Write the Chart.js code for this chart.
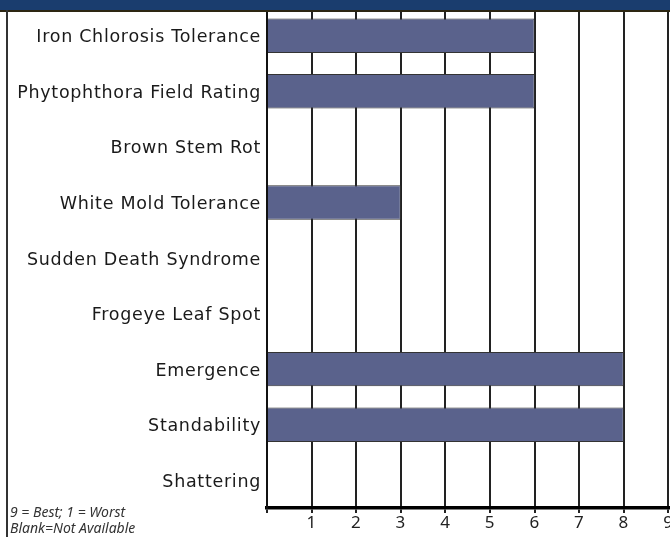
<!DOCTYPE html>
<html>
<head>
<meta charset="utf-8">
<script src="https://cdn.jsdelivr.net/npm/chart.js@4.4.1/dist/chart.umd.min.js"></script>
<style>
  html, body { margin: 0; padding: 0; background: #fff; }
  #wrap { position: relative; width: 670px; height: 537px; overflow: hidden; }
  #chart { position: absolute; left: 0; top: 0; }
  #head { position: absolute; left: 0; top: 0; width: 670px; height: 10px; background: #1a3d6e;
          border-bottom: 2px solid #2d2612; z-index: 2; }
  #frame { position: absolute; left: 6px; top: 10px; width: 2px; height: 527px; background: #333; z-index: 2; }
  #note { position: absolute; left: 10px; top: 504px; font: italic 14px "Noto Sans", sans-serif;
          color: #333; line-height: 16px; z-index: 2; }
</style>
</head>
<body>
<div id="wrap">
  <canvas id="chart"></canvas>
  <div id="head"></div>
  <div id="frame"></div>
  <div id="note">9 = Best; 1 = Worst<br>Blank=Not Available</div>
</div>
<script>
var traits = ["Iron Chlorosis Tolerance", "Phytophthora Field Rating", "Brown Stem Rot",
              "White Mold Tolerance", "Sudden Death Syndrome", "Frogeye Leaf Spot",
              "Emergence", "Standability", "Shattering"];
// null = blank (not available)
var ratings = [6, 6, null, 3, null, null, 8, 8, null];
var scaleMin = 0;
var scaleMax = 10;

var canvas = document.getElementById("chart");
canvas.width = 713;
canvas.height = 537;
canvas.style.width = "713px";
canvas.style.height = "537px";

// a touch wider lettering for the trait names (the original uses a wide font)
var spacing = {
    id: "spacing",
    beforeDraw: function (chart) { chart.ctx.letterSpacing = "0.7px"; }
};

var ctx = canvas.getContext("2d");
new Chart(ctx, {
    type: "bar",
    data: {
        labels: traits,
        datasets: [{
            data: ratings,
            backgroundColor: "#5a628c",
            borderColor: "#333",
            borderWidth: 1,
            barPercentage: 0.62,
            categoryPercentage: 1
        }]
    },
    plugins: [spacing],
    options: {
        indexAxis: "y",
        responsive: false,
        animation: false,
        layout: { padding: { top: 8, left: 0, right: 0, bottom: 0 } },
        plugins: { legend: { display: false }, tooltip: { enabled: false } },
        scales: {
            x: {
                min: scaleMin,
                max: scaleMax,
                afterFit: function (scale) {
                    scale.height = 29;
                    scale.paddingLeft = 0;
                    scale.paddingRight = 0;
                },
                ticks: {
                    stepSize: 1,
                    color: "#222",
                    padding: 0,
                    font: { family: "Noto Sans", size: 17 },
                    callback: function (v) { return (v >= 1 && v <= 9) ? v : ""; }
                },
                grid: { color: "#222", lineWidth: 2, tickLength: 5, drawTicks: true },
                border: { color: "#000", width: 3.5 }
            },
            y: {
                afterFit: function (scale) {
                    scale.width = 267;
                    scale.paddingTop = 0;
                    scale.paddingBottom = 0;
                },
                ticks: {
                    color: "#1a1a1a",
                    padding: 6,
                    labelOffset: 2,
                    font: { family: "DejaVu Sans", size: 17.5 }
                },
                grid: { display: false, drawTicks: false },
                border: { color: "#111", width: 2 }
            }
        }
    }
});
</script>
</body>
</html>
